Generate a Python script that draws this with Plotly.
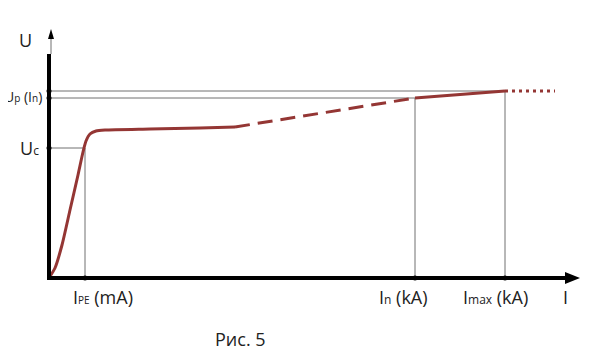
import plotly.graph_objects as go

# Schematic characteristic (arbitrary units: 1 unit ~ 1 px)
curve_x = [0, 6, 13, 21, 29, 34, 37, 41, 47, 56, 101, 151, 186]
curve_y = [0, 10, 33, 68, 103, 126, 137, 144, 147, 148, 149, 150, 151]
dash_x = [186, 366]
dash_y = [151, 180]
solid_x = [366, 456]
solid_y = [180, 187]
dot_x = [456, 506]
dot_y = [187, 187]

I_pe, I_n, I_max = 36, 366, 456
U_c, U_pn, U_p = 130, 180, 187

red = "#943634"
gray = "#707070"
font = "Open Sans"

fig = go.Figure()
fig.add_trace(go.Scatter(x=curve_x, y=curve_y, mode="lines",
                         line=dict(color=red, width=3, shape="spline", smoothing=0.6)))
fig.add_trace(go.Scatter(x=dash_x, y=dash_y, mode="lines",
                         line=dict(color=red, width=3, dash="15px,8px")))
fig.add_trace(go.Scatter(x=solid_x, y=solid_y, mode="lines",
                         line=dict(color=red, width=3)))
fig.add_trace(go.Scatter(x=dot_x, y=dot_y, mode="lines",
                         line=dict(color=red, width=3, dash="3px,4px")))

shapes = []
for y, x1 in [(U_p, I_max), (U_pn, I_n), (U_c, I_pe)]:
    shapes.append(dict(type="line", x0=0, x1=x1, y0=y, y1=y, line=dict(color=gray, width=1), layer="below"))
for x, y1 in [(I_pe, U_c), (I_n, U_pn), (I_max, U_p)]:
    shapes.append(dict(type="line", x0=x, x1=x, y0=0, y1=y1, line=dict(color=gray, width=1), layer="below"))
shapes.append(dict(type="line", x0=0, x1=0, y0=-2, y1=224, line=dict(color="black", width=4)))
shapes.append(dict(type="line", x0=2, x1=2, y0=224, y1=242, line=dict(color=gray, width=1)))
shapes.append(dict(type="path", path="M 2 249 L -1 239 L 5 239 Z", fillcolor="black", line=dict(width=0)))
shapes.append(dict(type="line", x0=-2, x1=518, y0=0, y1=0, line=dict(color="black", width=4)))
shapes.append(dict(type="path", path="M 531 0 L 516 -6 L 516 6 Z", fillcolor="black", line=dict(width=0)))
for s in shapes:
    s.setdefault("xref", "x")
    s.setdefault("yref", "y")
fig.update_layout(shapes=shapes)

fig.add_trace(go.Scatter(x=[0, 0, 0, I_pe, I_n, I_max], y=[U_p, U_pn, U_c, 0, 0, 0],
                         mode="markers", marker=dict(color="black", size=5), cliponaxis=False))

ann = [
    ("U", -24, 238, "center", 18),
    ("U<span style='font-size:10px'>p</span> (I<span style='font-size:10px'>n</span>)", -5, 182, "right", 14),
    ("U<span style='font-size:12px'>c</span>", -8, 130, "right", 18),
    ("I<span style='font-size:10px'>PE</span> (mA)", 54, -19, "center", 18),
    ("I<span style='font-size:12px'>n</span> (kA)", 354, -19, "center", 18),
    ("I<span style='font-size:12px'>max</span> (kA)", 446, -19, "center", 18),
    ("I", 516, -19, "center", 18),
    ("Рис. 5", 191, -61, "center", 18),
]
for t, x, y, xa, sz in ann:
    fig.add_annotation(x=x, y=y, text=t, showarrow=False, xanchor=xa, yanchor="middle",
                       font=dict(size=sz, color="#222222", family=font))

# page body has an 8px margin, so the figure is 588x355 and fills the rest
fig.update_layout(
    width=588, height=355,
    margin=dict(l=0, r=0, t=0, b=0),
    paper_bgcolor="white", plot_bgcolor="white",
    showlegend=False,
    xaxis=dict(range=[-41, 547], visible=False),
    yaxis=dict(range=[-85, 270], visible=False),
)
fig.write_html("out.html")
